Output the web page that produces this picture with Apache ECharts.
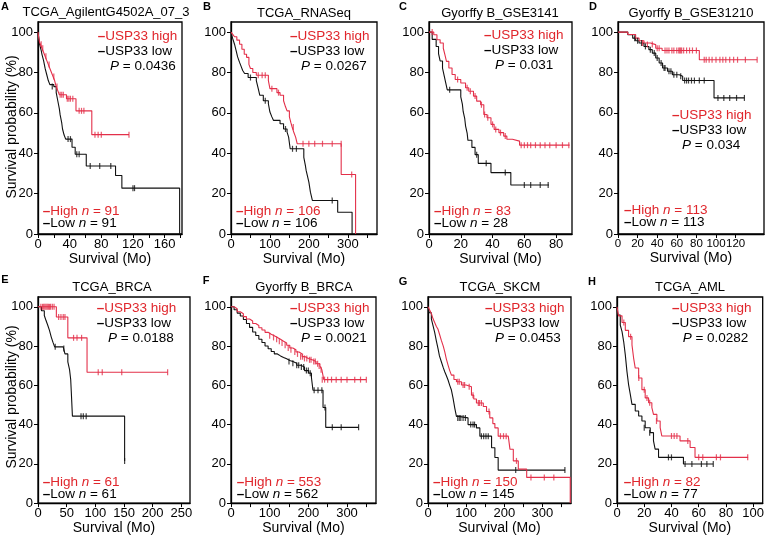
<!DOCTYPE html>
<html><head><meta charset="utf-8">
<script src="https://cdn.jsdelivr.net/npm/echarts@6/dist/echarts.min.js"></script>
<style>html,body{margin:0;padding:0;background:#fff}#c{width:767px;height:536px}</style>
</head><body><div id="c"></div><script>
// ---------- tick labels ----------
const yTicks = [0, 20, 40, 60, 80, 100];
const A_xTicks = [0, 40, 80, 120, 160];
const B_xTicks = [0, 100, 200, 300];
const C_xTicks = [0, 20, 40, 60, 80];
const D_xTicks = [0, 20, 40, 60, 80, 100, 120];
const E_xTicks = [0, 50, 100, 150, 200, 250];
const F_xTicks = [0, 100, 200, 300];
const G_xTicks = [0, 100, 200, 300];
const H_xTicks = [0, 20, 40, 60, 80, 100];

// ---------- titles / stats ----------
const panelLetters = ['A','B','C','D','E','F','G','H'];
const panelTitles = ['TCGA_AgilentG4502A_07_3','TCGA_RNASeq','Gyorffy B_GSE3141','Gyorffy B_GSE31210',
                     'TCGA_BRCA','Gyorffy B_BRCA','TCGA_SKCM','TCGA_AML'];
const pValues = ['0.0436','0.0267','0.031','0.034','0.0188','0.0021','0.0453','0.0282'];
const nHigh = [91, 106, 83, 113, 61, 553, 150, 82];
const nLow  = [91, 106, 28, 113, 61, 562, 145, 77];

// ---------- survival data [months, %] ----------
const A_high = [[0,100],[1,97],[2,95],[3,94],[5,92],[7,90],[9,88],[11,86],[13,84],[15,82],[17,80],[19,78],[21,76],[23,73],[25,71],[27,69],[36,67],[48,61],[68,49.2],[115,49.2]];
const A_highCens = [[4,94],[6,92],[10,88],[14,84],[20,78],[24,73],[28,69],[30,69],[32,69],[37,67],[39,67],[41,67],[44,67],[52,61],[55,61],[58,61],[72,49.2],[76,49.2],[80,49.2],[115,49.2]];
const A_low = [[0,100],[1,97],[2,94],[4,91],[5,89],[7,86],[9,82],[11,79],[13,76],[15,74],[20,73],[23,70],[25,66],[27,62],[28,59],[30,55],[31,52],[33,49],[35,47],[43,43],[47,39.5],[61,33.7],[98,29],[106,22.7],[179,22.7],[179,0]];
const A_lowCens = [[18,73],[38,47],[41,47],[49,39.5],[52,39.5],[66,33.7],[78,33.7],[92,33.7],[120,22.7],[122,22.7]];

const B_high = [[0,100],[4,99],[9,97.7],[15,96],[22,94],[28,91.5],[34,89],[40,87.5],[46,84],[50,82],[56,80],[65,78.6],[96,76],[100,72],[118,70],[126,68.7],[135,66],[140,63],[144,61],[150,58],[154,55],[157,53],[162,50],[166,48],[170,44.7],[283,29.5],[320,29.5],[320,0]];
const B_highCens = [[70,78.6],[80,78.6],[88,78.6],[105,72],[122,70],[160,53],[185,44.7],[200,44.7],[215,44.7],[235,44.7],[260,44.7],[283,44.7],[310,29.5]];
const B_low = [[0,100],[4,97],[9,94],[13,91],[17,87.7],[22,85],[26,83],[30,81],[35,79.5],[44,77.5],[65,76],[70,72],[74,68.7],[83,66],[96,64.5],[100,60.4],[105,58],[109,56.3],[126,54.6],[135,52],[144,50.5],[148,48],[152,42.2],[187,38],[191,34],[193,31.5],[196,29],[200,25.7],[204,20.7],[209,16.6],[274,10.8],[311,10.8],[311,0]];
const B_lowCens = [[50,77.5],[88,66],[140,52],[158,42.2],[168,42.2],[260,16.6]];

const C_high = [[0,100],[3,98.7],[5,96.2],[7,94.6],[9,92],[10,88.8],[11,85.5],[12.5,82.2],[14.5,79],[16.5,76.5],[20,74.8],[23,72.4],[25,70.7],[28,68.3],[30,65.8],[32.5,64],[34.5,59.2],[36.5,57.6],[39,54.3],[41,51.8],[44,50.2],[47,48.5],[49,46.9],[52.5,46],[57,44],[88.5,44]];
const C_highCens = [[2,100],[18,76.5],[24,72.4],[26,70.7],[29,68.3],[33,64],[35,59.2],[37,57.6],[40,54.3],[42,51.8],[45,50.2],[48,48.5],[58,44],[60,44],[62,44],[64,44],[67,44],[70,44],[73,44],[76,44],[80,44],[84,44],[88,44]];
const C_low = [[0,100],[2,96.4],[4.5,92.9],[6,89.3],[7,85.7],[8.5,82.1],[9.5,78.6],[10.5,75],[11.5,71.4],[20,67.9],[21,64.3],[21.5,60.7],[22.5,57.1],[23,53.6],[24,50],[24.5,46.4],[27,42.9],[29,39.3],[31,35],[39,30.4],[51.5,24.3],[75.5,24.3]];
const C_lowCens = [[13,71.4],[30,39.3],[36,35],[48,30.4],[60,24.3],[64,24.3],[70,24.3],[75,24.3]];

const D_high = [[0,100],[10,98.8],[18,97],[21.5,95.7],[26.5,94.6],[33,93.8],[38.5,92],[45,90.9],[83,86.3],[142,86.3]];
const D_highCens = [[25,94.6],[30,93.8],[35,93.8],[40,92],[42,92],[48,90.9],[50,90.9],[52,90.9],[55,90.9],[57,90.9],[60,90.9],[62,90.9],[63,90.9],[64,90.9],[65,90.9],[67,90.9],[70,90.9],[73,90.9],[76,90.9],[80,90.9],[88,86.3],[90,86.3],[93,86.3],[96,86.3],[100,86.3],[104,86.3],[107,86.3],[110,86.3],[114,86.3],[118,86.3],[122,86.3],[130,86.3],[142,86.3]];
const D_low = [[0,100],[10,98.7],[15,97],[18,95.7],[21.5,94.6],[26.5,92.9],[31.5,91.3],[35,89.6],[38.5,87.2],[42,84.7],[45.5,82.2],[50.5,80.6],[55.5,78.9],[62.5,78.1],[66,76],[98,67.4],[129,67.4]];
const D_lowCens = [[17,97],[20,95.7],[24,94.6],[28,92.9],[33,91.3],[37,89.6],[40,87.2],[44,84.7],[47,82.2],[48,82.2],[52,80.6],[54,80.6],[57,78.9],[60,78.9],[64,78.1],[68,76],[70,76],[72,76],[75,76],[78,76],[83,76],[88,76],[102,67.4],[108,67.4],[114,67.4],[121,67.4],[129,67.4]];

const E_high = [[0,100],[32,94.8],[52,84.2],[85.5,66.7],[226,66.7]];
const E_highCens = [[5,100],[8,100],[10,100],[12,100],[14,100],[16,100],[18,100],[20,100],[22,100],[25,100],[28,100],[36,94.8],[40,94.8],[44,94.8],[47,94.8],[62,84.2],[68,84.2],[76,84.2],[105,66.7],[112,66.7],[146,66.7],[226,66.7]];
const E_low = [[0,100],[6,98],[11,95.6],[14,93],[17,90.6],[20,88],[23,84.7],[26,82],[29,79.6],[44,78.8],[47,76],[52,72],[55,68],[57,63],[58,57],[60,44.3],[151,44.3],[151,21.5]];
const E_lowCens = [[30,79.6],[45,78.8],[75,44.3],[79,44.3],[84,44.3],[151,21.5]];

const F_high = [[0,100],[8,99],[16,97.5],[24,96.5],[32,95],[40,93.8],[48,92.8],[56,91.5],[64,90.5],[72,89.3],[80,88.2],[88,87],[96,86],[104,85.2],[112,84.4],[120,83.5],[128,82.5],[136,81.6],[144,80.4],[152,79],[160,78.1],[168,77],[176,76],[184,74.6],[192,73.7],[200,73],[210,72.1],[220,71],[230,69.8],[235,67.9],[240,62.9],[350,62.9]];
const F_highCens = [[100,85.2],[110,84.4],[118,83.5],[125,82.5],[132,81.6],[140,80.4],[148,79],[155,78.1],[165,77],[172,76],[180,74.6],[185,74.6],[190,73.7],[196,73.7],[203,73],[207,73],[214,72.1],[218,72.1],[224,71],[228,69.8],[233,67.9],[236,62.9],[242,62.9],[250,62.9],[260,62.9],[272,62.9],[285,62.9],[300,62.9],[320,62.9],[335,62.9],[350,62.9]];
const F_low = [[0,100],[8,98.5],[16,96.8],[24,95.3],[32,93.5],[40,91.5],[48,89.5],[56,87.2],[64,85.4],[72,83.5],[80,81.8],[88,80],[96,78.6],[104,77.2],[112,76],[120,75],[128,74.2],[136,73.5],[144,72.7],[152,72.1],[160,71.3],[170,70.2],[180,69.3],[190,67.5],[201,66.2],[208,64],[212,57.5],[238,48.7],[245,38.6],[330,38.6]];
const F_lowCens = [[150,72.1],[160,71.3],[170,70.2],[175,70.2],[182,69.3],[188,69.3],[195,67.5],[200,67.5],[205,66.2],[215,57.5],[225,57.5],[235,57.5],[243,48.7],[262,38.6],[285,38.6],[330,38.6]];

const G_high = [[0,100],[4,98.5],[9,96.5],[13,94],[17.5,92],[22,90],[26,88.7],[31,85.5],[35,82.9],[40,80],[44,77],[48,73.5],[52.6,70.3],[57,67.5],[61.4,65.2],[68,63],[74.6,61.8],[87.7,60.2],[100,59.3],[114,55],[120,53],[127,51],[145,49.2],[153.5,46.7],[162,43.4],[170,40.5],[175.4,38.3],[184,34.1],[210.5,34.1],[215,27.4],[223.7,21.5],[236.8,17.3],[258.8,13.1],[373,13.1],[373,0]];
const G_highCens = [[78,61.8],[82,61.8],[92,60.2],[96,60.2],[108,59.3],[118,55],[132,51],[135,51],[140,51],[160,46.7],[190,34.1],[198,34.1],[205,34.1],[232,21.5],[270,13.1],[305,13.1],[330,13.1]];
const G_low = [[0,100],[3,97],[8.8,93.8],[13,90.5],[17.5,87],[22,82.5],[26.3,78.7],[30,75],[35,72],[40,69],[43.9,66.9],[48,65],[52.6,62.7],[57,60],[61.4,57.6],[65.8,53.4],[70.2,48.4],[74.6,44.2],[80,43.4],[105,40],[127,38.3],[136,34.1],[166.7,28.2],[175.4,23.2],[184,16.8],[359.6,16.8]];
const G_lowCens = [[78,43.4],[82,43.4],[86,43.4],[92,43.4],[98,43.4],[112,40],[118,40],[122,40],[140,34.1],[146,34.1],[152,34.1],[158,34.1],[230,16.8],[359,16.8]];

const H_high = [[0,100],[0.5,99],[1.2,95.4],[3.7,92],[6.1,88],[8.5,84.8],[11,80.6],[12.2,73.9],[13.4,68.8],[15.9,63.7],[18.3,57.8],[20.7,53.6],[23.2,51.1],[25.6,48.6],[26.8,45.2],[29.3,41.8],[31.7,38.4],[32.9,34.2],[46.3,31.7],[53.7,28.3],[57.3,23.3],[96.3,23.3]];
const H_highCens = [[5,92],[10,84.8],[16,63.7],[20,57.8],[22,53.6],[24,51.1],[29,41.8],[40,34.2],[42,34.2],[44,34.2],[52,31.7],[60,23.3],[63,23.3],[73,23.3],[76,23.3],[96,23.3]];
const H_low = [[0,100],[0.5,95.8],[2.4,90.7],[3.7,87.4],[4.9,82.3],[6.1,75.5],[7.3,67.1],[8.5,60.4],[9.8,55.3],[11,50.3],[13.4,46.9],[15.9,44.4],[18.3,41.8],[20.7,38.4],[24.4,35.9],[26.8,31.7],[28,27.5],[30.5,23.3],[48.8,19.9],[70.7,19.9]];
const H_lowCens = [[20,38.4],[24,35.9],[37.8,23.3],[40,23.3],[50,19.9],[55,19.9],[62,19.9],[66,19.9],[70.7,19.9]];

// ---------- layout ----------
const RED = '#e0262c', RED_LINE = '#e3304a', BLACK = '#111111';
const FONT = '"Liberation Sans", Arial, Helvetica, sans-serif';
const L = [
  {g:[38,22,144,212],  xmax:182, xt:A_xTicks, minor:20, xfs:13,   hi:A_high, hc:A_highCens, lo:A_low, lc:A_lowCens, leg:[97.7,36], p:110, nx:42.7, ny:211, letter:[5,7], tx:106, ty:12, yname:127},
  {g:[231,22,146,212], xmax:375, xt:B_xTicks, minor:50, xfs:13,   hi:B_high, hc:B_highCens, lo:B_low, lc:B_lowCens, leg:[290,36], p:301, nx:236, ny:211, letter:[207,7], tx:304, ty:13},
  {g:[429,22,143,212], xmax:90,  xt:C_xTicks, minor:0,  xfs:13,   hi:C_high, hc:C_highCens, lo:C_low, lc:C_lowCens, leg:[484,35], p:495, nx:434, ny:211, letter:[403,7], tx:500, ty:13},
  {g:[618,22,146,212], xmax:149, xt:D_xTicks, minor:0,  xfs:11.5, hi:D_high, hc:D_highCens, lo:D_low, lc:D_lowCens, leg:[672,115], p:682, nx:624, ny:210, letter:[593,7], tx:691, ty:13},
  {g:[38,297,152,208], xmax:265, xt:E_xTicks, minor:0,  xfs:13,   hi:E_high, hc:E_highCens, lo:E_low, lc:E_lowCens, leg:[96.7,308], p:108, nx:42.7, ny:482, letter:[5,280], tx:112, ty:287, yname:397},
  {g:[231,297,145,208],xmax:375, xt:F_xTicks, minor:50, xfs:13,   hi:F_high, hc:F_highCens, lo:F_low, lc:F_lowCens, leg:[290,308], p:301, nx:236.7, ny:482, letter:[206,281], tx:304, ty:287},
  {g:[428,297,143,208],xmax:375, xt:G_xTicks, minor:50, xfs:13,   hi:G_high, hc:G_highCens, lo:G_low, lc:G_lowCens, leg:[485,308], p:495, nx:433, ny:482, letter:[403,282], tx:500, ty:287},
  {g:[617,297,146,208],xmax:107, xt:H_xTicks, minor:0,  xfs:13,   hi:H_high, hc:H_highCens, lo:H_low, lc:H_lowCens, leg:[672,308], p:682.7, nx:623.7, ny:482, letter:[592,282], tx:690, ty:287}
];

const FS = 13.5;
const richFor = (color) => ({
  d:{fontWeight:'bold', fontSize:FS, fontFamily:FONT, fill:color},
  i:{fontStyle:'italic', fontSize:FS, fontFamily:FONT, fill:color},
  t:{fontSize:FS, fontFamily:FONT, fill:color}
});

const grid = [], xAxis = [], yAxis = [], series = [], graphic = [];
L.forEach((c, i) => {
  grid.push({left:c.g[0], top:c.g[1], width:c.g[2], height:c.g[3], show:true, borderColor:'#000', borderWidth:1.3, backgroundColor:'transparent'});
  const tickVals = c.xt.slice();
  if (c.minor) { for (let v = c.minor; v < c.xmax; v += c.minor * 2) tickVals.push(v); }
  xAxis.push({gridIndex:i, type:'value', min:0, max:c.xmax,
    axisLine:{show:true, onZero:false, lineStyle:{color:'#000', width:1.3}},
    axisTick:{show:true, length:4, customValues:tickVals, lineStyle:{color:'#000', width:1}},
    axisLabel:{customValues:c.xt, hideOverlap:false, margin:4, fontSize:c.xfs, color:'#000', fontFamily:FONT},
    splitLine:{show:false},
    name:'Survival (Mo)', nameLocation:'middle', nameGap:15,
    nameTextStyle:{fontSize:14, color:'#000', fontFamily:FONT}});
  yAxis.push({gridIndex:i, type:'value', min:0, max:105,
    axisLine:{show:true, onZero:false, lineStyle:{color:'#000', width:1.3}},
    axisTick:{show:true, length:4, customValues:yTicks, lineStyle:{color:'#000', width:1}},
    axisLabel:{customValues:yTicks, hideOverlap:false, margin:5, fontSize:13, color:'#000', fontFamily:FONT},
    splitLine:{show:false}});
  const mkLine = (data, color) => ({type:'line', xAxisIndex:i, yAxisIndex:i, data, step:'end', showSymbol:false, symbol:'none', silent:true, animation:false,
      lineStyle:{color, width:1.1}, z:3});
  const mkCens = (data, color) => ({type:'scatter', xAxisIndex:i, yAxisIndex:i, data, symbol:'rect', symbolSize:[1.2,6], silent:true, animation:false,
      itemStyle:{color}, z:4});
  series.push(mkLine(c.lo, BLACK), mkCens(c.lc, BLACK), mkLine(c.hi, RED_LINE), mkCens(c.hc, RED_LINE));

  graphic.push({type:'text', x:c.letter[0], y:c.letter[1], style:{text:panelLetters[i], font:'bold 11px '+FONT, fill:'#000', align:'center', verticalAlign:'middle'}});
  graphic.push({type:'text', x:c.tx, y:c.ty, style:{text:panelTitles[i], font:'13px '+FONT, fill:'#000', align:'center', verticalAlign:'middle'}});
  graphic.push({type:'text', x:c.leg[0], y:c.leg[1], style:{text:'{d|–}{t|USP33 high}', font:FS+'px '+FONT, fill:RED, align:'left', verticalAlign:'middle', rich:richFor(RED)}});
  graphic.push({type:'text', x:c.leg[0], y:c.leg[1]+15.5, style:{text:'{d|–}{t|USP33 low}', font:FS+'px '+FONT, fill:'#000', align:'left', verticalAlign:'middle', rich:richFor('#000')}});
  graphic.push({type:'text', x:c.p, y:c.leg[1]+30, style:{text:'{i|P}{t| = ' + pValues[i] + '}', font:FS+'px '+FONT, fill:'#000', align:'left', verticalAlign:'middle', rich:richFor('#000')}});
  graphic.push({type:'text', x:c.nx, y:c.ny, style:{text:'{d|–}{t|High }{i|n}{t| = ' + nHigh[i] + '}', font:FS+'px '+FONT, fill:RED, align:'left', verticalAlign:'middle', rich:richFor(RED)}});
  graphic.push({type:'text', x:c.nx, y:c.ny+12.7, style:{text:'{d|–}{t|Low }{i|n}{t| = ' + nLow[i] + '}', font:FS+'px '+FONT, fill:'#000', align:'left', verticalAlign:'middle', rich:richFor('#000')}});
  if (c.yname) {
    graphic.push({type:'text', x:12, y:c.yname, rotation:Math.PI/2, style:{text:'Survival probability (%)', font:'14px '+FONT, fill:'#000', align:'center', verticalAlign:'middle'}});
  }
});

const chart = echarts.init(document.getElementById('c'), null, {renderer:'canvas'});
chart.setOption({animation:false, backgroundColor:'#fff', grid, xAxis, yAxis, series, graphic});
</script></body></html>
